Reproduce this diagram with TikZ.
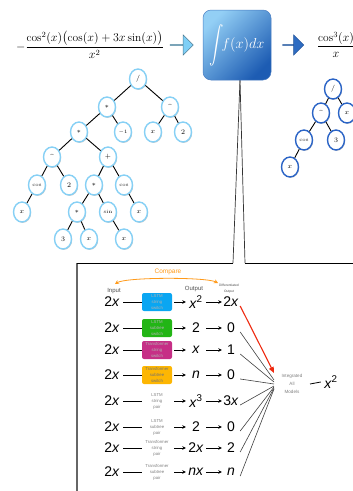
\documentclass[tikz,border=0pt]{standalone}
\usepackage{fontspec}
\usepackage{amsmath}
\newfontfamily\panelfont{Liberation Sans}
\usetikzlibrary{shapes.geometric,shapes.arrows,shadows,arrows.meta,calc}
\definecolor{treelight}{HTML}{86D0F5}
\definecolor{treedark}{HTML}{2B64C6}
\definecolor{arrowlight}{HTML}{7FCFF6}
\definecolor{arrowdark}{HTML}{2E6CC2}
\definecolor{boxtop}{HTML}{93CFF5}
\definecolor{boxbottom}{HTML}{1D5CB3}
\definecolor{lstmblue}{HTML}{0AA6F2}
\definecolor{lstmgreen}{HTML}{22B515}
\definecolor{tfmagenta}{HTML}{C62F86}
\definecolor{tfamber}{HTML}{FDB603}
\definecolor{cmporange}{HTML}{FF9A1A}
\definecolor{diffred}{HTML}{EE2A10}
\newcommand\xv{\textit{x}}
\newcommand\boxfont{\panelfont\fontsize{4.3}{6}\selectfont}
\newcommand\numfont{\panelfont\fontsize{14}{14}\selectfont}
\begin{document}
\begin{tikzpicture}[x=1pt,y=-1pt,
  treenode/.style={ellipse, minimum width=17pt, minimum height=20pt, inner sep=0pt,
    fill=white, line width=1.4pt, font=\fontsize{7}{7}\selectfont,
    drop shadow={shadow xshift=0.7pt, shadow yshift=-0.9pt, opacity=0.35, fill=black!60}},
  lnode/.style={treenode, draw=treelight},
  rnode/.style={treenode, draw=treedark},
  treeedge/.style={line width=0.9pt, black},
  callout/.style={line width=0.7pt, black!80},
  inp/.style={font=\numfont, minimum width=22pt, inner sep=1pt},
  outp/.style={font=\numfont, minimum width=20pt, inner sep=1pt},
  difp/.style={font=\numfont, minimum width=18pt, inner sep=1pt},
  mdlbox/.style={minimum width=30pt, minimum height=18pt, rounded corners=2pt,
    inner sep=0pt, align=center, font=\boxfont},
  plain/.style={line width=0.8pt, black},
  arrowlink/.style={line width=0.8pt, black, -{Stealth[length=3.5pt,width=3.5pt]}},
  redlink/.style={line width=1.1pt, diffred, -{Triangle[length=6pt,width=5pt]}},
  greylink/.style={line width=0.6pt, black!75},
  smalllabel/.style={font=\panelfont\fontsize{6}{6}\selectfont, text=black!70, inner sep=0pt}]
\useasboundingbox (0,0) rectangle (353,491);
\clip (0,0) rectangle (353,491);

% --- top row: derivative, integration step, antiderivative
\node (lhs) at (90,45) {\fontsize{11.5}{13}\selectfont
  $-\dfrac{\cos^2(x)\bigl(\cos(x)+3x\sin(x)\bigr)}{x^2}$};
\node[single arrow, draw=arrowlight!60!black, fill=arrowlight, line width=0.5pt,
  minimum height=23pt, minimum width=20pt, single arrow head extend=5pt,
  inner sep=0pt] (a1) at (181.5,45) {};
\draw[callout] ($(237,80)+(3,0)$) coordinate (apex) -- (233,263) coordinate (gapL);
\draw[callout] (apex) -- (245,263) coordinate (gapR);
\node[rounded corners=8pt, minimum width=68pt, minimum height=70pt,
  top color=boxtop, bottom color=boxbottom, shading angle=45,
  draw=boxbottom!80, line width=0.5pt, text=white] (intbox) at (237,45)
  {\fontsize{14}{14}\selectfont$\vcenter{\hbox{\scalebox{1}[1.3]{$\displaystyle\int$}}}\!f(x)dx$};
\node[single arrow, draw=arrowdark!80!black, fill=arrowdark, line width=0.5pt,
  minimum height=21pt, minimum width=20pt, single arrow head extend=5pt,
  inner sep=0pt] (a2) at (293,45) {};
\node (rhs) at (336,45) {\fontsize{11.5}{13}\selectfont $\dfrac{\cos^3(x)}{x}$};

% --- expression tree of the derivative
\node[lnode] (l1) at (138,79) {$/$};
\node[lnode] (l2) at (107,107) {$*$};
\node[lnode] (l3) at (170,107) {\textasciicircum};
\node[lnode] (l4) at (79,132) {$*$};
\node[lnode] (l5) at (123,132) {\fontsize{5}{5}\selectfont$-1$};
\node[lnode] (l6) at (153,132) {$x$};
\node[lnode] (l7) at (183,132) {$2$};
\node[lnode] (l8) at (52,157) {\textasciicircum};
\node[lnode] (l9) at (108,157) {$+$};
\node[lnode] (l10) at (37,185) {\fontsize{5}{5}\selectfont cos};
\node[lnode] (l11) at (69,185) {$2$};
\node[lnode] (l12) at (94,185) {$*$};
\node[lnode] (l13) at (124,185) {\fontsize{5}{5}\selectfont cos};
\node[lnode] (l14) at (22,212) {$x$};
\node[lnode] (l15) at (77,212) {$*$};
\node[lnode] (l16) at (108,212) {\fontsize{5}{5}\selectfont sin};
\node[lnode] (l17) at (139,212) {$x$};
\node[lnode] (l18) at (63,239) {$3$};
\node[lnode] (l19) at (89,239) {$x$};
\node[lnode] (l20) at (124,239) {$x$};
\foreach \a/\b in {l1/l2,l1/l3,l2/l4,l2/l5,l3/l6,l3/l7,l4/l8,l4/l9,l8/l10,l8/l11,
  l9/l12,l9/l13,l10/l14,l12/l15,l12/l16,l13/l17,l15/l18,l15/l19,l16/l20}
  \draw[treeedge] (\a) -- (\b);

% --- expression tree of the antiderivative
\node[rnode] (r1) at (333,89) {$/$};
\node[rnode] (r2) at (321,113) {\textasciicircum};
\node[rnode] (r3) at (347,113) {$x$};
\node[rnode] (r4) at (304,140) {\fontsize{5}{5}\selectfont cos};
\node[rnode] (r5) at (336,140) {$3$};
\node[rnode] (r6) at (290,167) {$x$};
\foreach \a/\b in {r1/r2,r1/r3,r2/r4,r2/r5,r4/r6}
  \draw[treeedge] (\a) -- (\b);

% --- detail panel
\draw[line width=1.6pt, black!60] (77,491) -- (77,263);
\draw[line width=0.8pt, black] (77,263) -- (gapL);
\draw[line width=0.8pt, black] (gapR) -- (353,263);

\node[font=\panelfont\fontsize{6.5}{6.5}\selectfont, text=cmporange] (cmp) at (168,272) {Compare};
\coordinate (cmpL) at (115,284);
\coordinate (cmpR) at (218,283);
\draw[cmporange, line width=0.8pt, {Stealth[length=4pt,width=4pt]}-{Stealth[length=4pt,width=4pt]}]
  (cmpL) .. controls (126,277) and (206,277) .. (cmpR);
\node[smalllabel] (lin) at (114,291) {Input};
\node[smalllabel] (lout) at (194,289) {Output};
\node[smalllabel, font=\panelfont\fontsize{3.3}{6}\selectfont, align=center] (ldif) at (229,289)
  {Differentiated\\Output};

\node[font=\panelfont\fontsize{4.6}{8}\selectfont, text=black!50, align=center] (intg) at (292,384)
  {Integrated\\All\\Models};

\foreach \i/\yy/\o/\d/\fc/\tc/\ta/\tb/\tcc/\ls/\ey in {
  1/302/{\xv\textsuperscript{2}}/{2\xv}/lstmblue/white!70!black/LSTM/string/switch/redlink/373,
  2/328/2/0/lstmgreen/white!70!black/LSTM/subtree/switch/greylink/380,
  3/350/\xv/1/tfmagenta/white!70!black/Transformer/string/switch/greylink/382,
  4/375/\textit{n}/0/tfamber/black!55/Transformer/subtree/switch/greylink/384,
  5/401/{\xv\textsuperscript{3}}/{3\xv}/none/black!50/LSTM/string/pair/greylink/386,
  6/427/2/0/none/black!50/LSTM/subtree/pair/greylink/387,
  7/448/{2\xv}/2/none/black!50/Transformer/string/pair/greylink/388,
  8/472/{\textit{n}\xv}/\textit{n}/none/black!50/Transformer/subtree/pair/greylink/389}{
  \node[inp] (in\i) at (112,\yy) {2\xv};
  \node[mdlbox, fill=\fc, text=\tc] (mdl\i) at (157,\yy) {\ta\\\tb\\\tcc};
  \node[outp] (out\i) at (196,\yy) {\o};
  \node[difp] (dif\i) at (231,\yy) {\d};
  \draw[plain] (in\i.east) -- (mdl\i.west);
  \draw[arrowlink] ($(mdl\i.east)+(2,0)$) -- (out\i.west);
  \draw[arrowlink] (out\i.east) -- (dif\i.west);
  \draw[\ls] ($(dif\i.east)+(0,4)$) -- (274,\ey);
}
\node[font=\numfont] (res) at (331,382) {\xv\textsuperscript{2}};
\draw[plain] (310,384) -- (res.west);
\end{tikzpicture}
\end{document}
